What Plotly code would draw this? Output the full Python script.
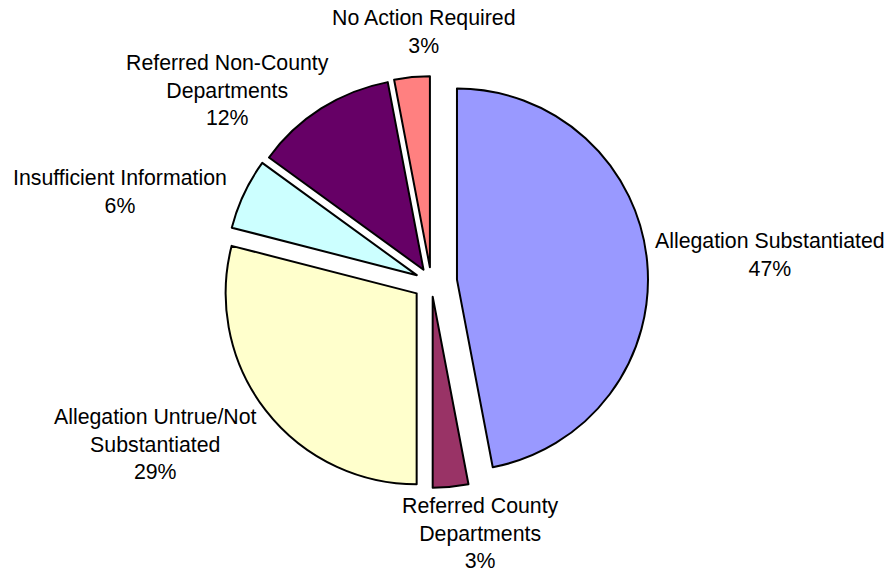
import plotly.graph_objects as go

categories = ["Allegation Substantiated", "Referred County Departments",
              "Allegation Untrue/Not Substantiated", "Insufficient Information",
              "Referred Non-County Departments", "No Action Required"]
values = [47, 3, 29, 6, 12, 3]
label_lines = ["Allegation Substantiated", "Referred County<br>Departments",
               "Allegation Untrue/Not<br>Substantiated", "Insufficient Information",
               "Referred Non-County<br>Departments", "No Action Required"]
colors = ["#9999FF", "#993366", "#FFFFCC", "#CCFFFF", "#660066", "#FF8080"]
pulls = [0.135, 0.077, 0.097, 0.084, 0.076, 0.077]

# label centre positions in pixels (x, y from top)
label_pos = [(769.5, 254.5), (480, 533.6), (155.7, 444.3), (119.5, 192),
             (227, 90.5), (424, 32)]

W, H = 888, 571
total = sum(values)
dx, dy = -0.5, 5.0

fig = go.Figure(go.Pie(
    labels=categories, values=values, sort=False, direction="clockwise",
    rotation=0, pull=pulls, textinfo="none", hoverinfo="label+percent",
    marker=dict(colors=colors, line=dict(color="black", width=2)),
    domain=dict(x=[(215.0 + dx) / W, (648.6 + dx) / W],
                y=[1 - (493.8 + dy) / H, 1 - (60.2 + dy) / H]),
    showlegend=False,
))

annotations = []
for lab, v, (px, py) in zip(label_lines, values, label_pos):
    annotations.append(dict(
        text=f"{lab}<br>{round(100 * v / total)}%",
        x=px / W, y=1 - py / H, xref="paper", yref="paper",
        xanchor="center", yanchor="middle", showarrow=False, align="center",
        font=dict(family="Liberation Sans, Arial, sans-serif", size=21.3, color="black"),
    ))

fig.update_layout(
    width=W, height=H, margin=dict(l=0, r=0, t=0, b=0),
    paper_bgcolor="white", plot_bgcolor="white",
    annotations=annotations,
)

fig.write_html("out.html", config={"displayModeBar": False},
               post_script="document.body.style.margin='0';document.body.style.overflow='hidden';")
